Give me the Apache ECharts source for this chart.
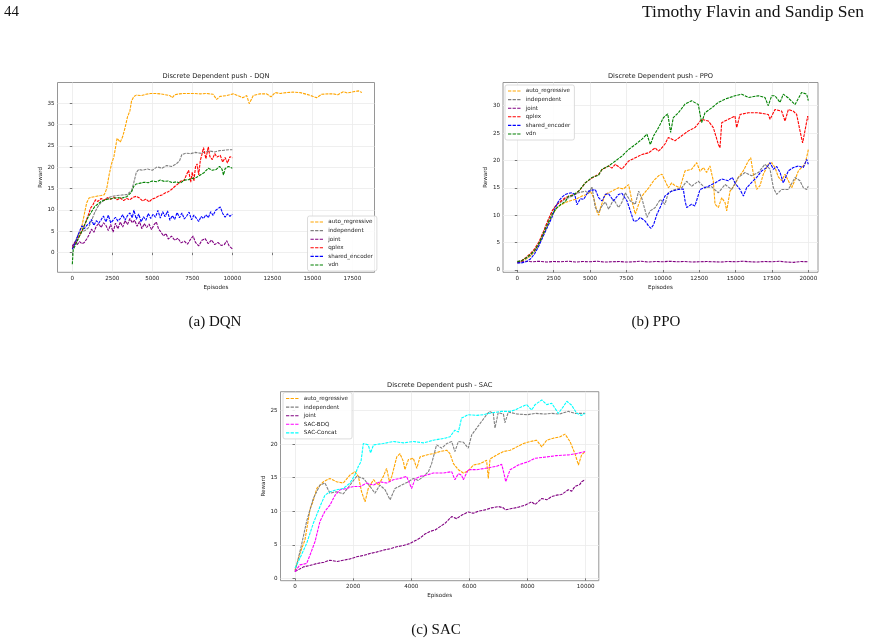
<!DOCTYPE html>
<html>
<head>
<meta charset="utf-8">
<script src="https://cdn.jsdelivr.net/npm/echarts@6/dist/echarts.min.js"></script>
<style>
  html, body { margin: 0; padding: 0; background: #fff; }
  #chart { width: 869px; height: 644px; }
</style>
</head>
<body>
<div id="chart"></div>
<script>
// ---------- DQN ----------
const dqnTicksX = [0, 2500, 5000, 7500, 10000, 12500, 15000, 17500];
const dqnTicksY = [0, 5, 10, 15, 20, 25, 30, 35];
const dqnAutoRegressive = [[0,1.0],[150,2.2],[300,3.4],[450,4.6],[600,6.2],[750,9.0],[900,11.7],[1050,12.8],[1200,13.0],[1400,13.1],[1600,13.3],[1800,13.4],[2000,13.6],[2150,15.0],[2300,18.2],[2450,20.8],[2600,22.5],[2700,24.6],[2800,26.8],[2900,26.4],[3000,25.9],[3150,27.2],[3300,29.3],[3450,31.8],[3600,33.2],[3700,35.5],[3850,36.6],[4000,36.9],[4300,36.8],[4600,37.1],[4900,37.3],[5200,37.3],[5500,37.2],[5800,37.0],[6100,36.8],[6250,36.3],[6400,37.0],[6700,37.2],[7000,37.3],[7500,37.3],[8000,37.2],[8400,37.3],[8800,37.1],[9020,35.9],[9230,36.6],[9650,36.8],[10060,37.2],[10480,36.6],[10650,36.3],[10900,36.8],[11060,34.9],[11310,36.8],[11730,37.2],[12150,37.2],[12420,36.5],[12670,37.5],[13000,37.3],[13400,37.5],[13800,37.6],[14230,37.5],[14650,37.1],[15060,36.6],[15270,36.3],[15590,37.1],[16000,37.2],[16310,37.2],[16600,37.0],[16940,37.7],[17200,37.4],[17560,37.7],[17880,37.9],[18100,37.5]];
const dqnIndependent = [[0,1.4],[200,2.8],[400,4.6],[600,4.9],[800,5.2],[1000,5.8],[1200,7.5],[1400,9.4],[1600,10.8],[1800,11.8],[2000,12.3],[2200,12.8],[2500,13.2],[2800,13.4],[3100,13.5],[3400,13.6],[3700,14.5],[3850,16.5],[4000,18.8],[4150,19.5],[4400,19.3],[4700,19.6],[5000,19.3],[5300,20.1],[5600,19.8],[5900,20.4],[6200,20.2],[6500,20.8],[6700,21.5],[6850,23.0],[7100,23.3],[7400,23.2],[7700,23.5],[8000,23.3],[8300,23.6],[8600,23.8],[8900,23.6],[9200,23.9],[9500,24.0],[9800,24.1],[10000,24.1]];
const dqnJoint = [[0,1.5],[150,2.5],[300,1.9],[450,2.6],[600,2.1],[750,2.4],[900,3.2],[1050,4.2],[1200,5.5],[1350,4.8],[1500,6.2],[1650,6.8],[1800,5.9],[1950,7.0],[2100,6.4],[2250,5.2],[2400,6.6],[2550,4.8],[2700,6.9],[2850,5.6],[3000,7.2],[3150,6.0],[3300,7.5],[3450,6.6],[3600,8.0],[3750,7.0],[3900,7.6],[4050,6.2],[4200,7.3],[4350,5.6],[4500,6.8],[4650,5.9],[4800,6.7],[4950,5.4],[5100,6.5],[5250,7.2],[5400,5.5],[5550,4.8],[5700,3.9],[5850,4.5],[6000,3.2],[6200,3.9],[6400,2.9],[6600,3.4],[6800,2.3],[7000,2.7],[7200,2.0],[7400,3.2],[7550,3.9],[7700,2.4],[7900,1.6],[8100,2.9],[8300,3.3],[8500,2.1],[8700,3.0],[8900,1.9],[9100,2.4],[9300,1.7],[9500,1.9],[9650,2.8],[9800,1.6],[10000,0.9]];
const dqnQplex = [[0,1.0],[200,2.2],[400,3.6],[600,5.0],[800,6.8],[1000,8.8],[1150,10.5],[1300,11.3],[1450,12.4],[1600,12.0],[1800,12.7],[2000,12.3],[2200,12.9],[2400,12.5],[2600,13.0],[2800,12.4],[3000,12.8],[3200,12.2],[3400,12.7],[3600,12.4],[3800,13.0],[4000,13.2],[4200,12.8],[4400,12.1],[4600,12.6],[4800,11.9],[5000,12.6],[5200,12.8],[5400,13.3],[5600,13.5],[5800,14.0],[6000,14.3],[6200,14.8],[6400,15.5],[6600,16.1],[6800,16.8],[7000,17.0],[7150,18.4],[7270,19.3],[7400,16.5],[7500,18.9],[7600,16.8],[7700,20.1],[7800,20.8],[7900,18.2],[8000,21.6],[8100,23.0],[8200,24.6],[8350,22.0],[8500,24.8],[8600,22.5],[8750,21.8],[8900,23.2],[9050,22.4],[9250,22.8],[9400,21.2],[9550,22.3],[9700,21.0],[9850,22.5],[10000,22.2]];
const dqnSharedEncoder = [[0,0.8],[150,2.0],[300,3.5],[450,5.0],[600,6.3],[750,5.6],[900,6.4],[1050,6.8],[1200,7.8],[1350,6.4],[1500,7.5],[1650,6.9],[1800,7.7],[1950,8.6],[2100,7.2],[2250,8.8],[2400,7.0],[2550,7.6],[2700,8.3],[2850,7.4],[3000,8.0],[3150,8.9],[3300,7.6],[3450,8.7],[3600,9.3],[3750,8.2],[3850,10.0],[4000,7.8],[4150,9.1],[4300,7.2],[4450,8.4],[4600,7.6],[4750,9.2],[4900,8.0],[5050,9.0],[5200,8.3],[5350,9.9],[5500,8.1],[5650,9.6],[5800,8.4],[5950,9.8],[6100,7.6],[6250,8.7],[6400,7.8],[6550,9.4],[6700,8.2],[6850,9.3],[7000,7.9],[7150,8.6],[7300,9.5],[7450,7.7],[7600,8.8],[7750,8.1],[7900,7.3],[8050,8.5],[8200,8.0],[8350,8.9],[8500,8.2],[8650,9.6],[8800,8.7],[8950,9.9],[9100,10.3],[9250,10.7],[9400,9.2],[9550,8.3],[9700,9.1],[9850,8.5],[10000,9.0]];
const dqnVdn = [[0,-2.7],[60,0.8],[200,1.8],[400,3.5],[600,5.0],[800,6.8],[1000,8.4],[1200,9.6],[1400,10.8],[1600,11.4],[1800,12.0],[2000,12.3],[2200,12.5],[2500,12.7],[2800,12.9],[3100,12.8],[3400,13.1],[3700,14.2],[3850,15.6],[4000,16.1],[4250,16.3],[4500,16.5],[4750,16.4],[5000,16.8],[5250,16.6],[5500,17.0],[5750,16.7],[6000,16.8],[6250,16.4],[6500,16.6],[6750,16.3],[7000,17.0],[7250,17.1],[7500,17.4],[7750,17.6],[8000,18.2],[8250,18.8],[8500,19.8],[8750,19.3],[9000,19.5],[9200,20.2],[9350,19.6],[9450,18.2],[9550,19.7],[9750,20.2],[10000,19.8]];

// ---------- PPO ----------
const ppoTicksX = [0, 2500, 5000, 7500, 10000, 12500, 15000, 17500, 20000];
const ppoTicksY = [0, 5, 10, 15, 20, 25, 30];
const ppoAutoRegressive = [[0,1.5],[300,1.6],[600,2.0],[900,2.5],[1200,3.4],[1500,4.7],[1800,6.4],[2100,8.2],[2400,10.0],[2700,11.3],[3000,11.9],[3300,12.3],[3600,12.6],[4000,12.9],[4450,13.5],[4800,13.8],[5020,14.4],[5250,13.2],[5480,10.6],[5600,10.0],[5720,11.4],[6050,13.8],[6500,14.4],[6960,15.0],[7300,14.8],[7650,15.6],[7880,12.6],[8110,10.2],[8340,12.0],[8570,13.5],[9030,15.0],[9370,16.3],[9710,17.2],[9940,17.5],[10100,16.6],[10380,15.0],[10610,15.9],[10840,15.4],[11180,15.0],[11530,18.1],[11980,18.4],[12330,19.6],[12560,18.0],[12790,18.7],[13010,17.8],[13240,19.0],[13470,16.3],[13590,12.0],[13820,11.4],[14050,13.2],[14280,12.3],[14390,10.8],[14620,14.4],[14960,15.6],[15190,16.9],[15530,18.1],[15880,19.9],[16040,20.5],[16220,17.6],[16450,14.7],[16680,15.4],[16910,17.5],[17250,19.3],[17480,19.6],[17710,18.7],[17940,17.0],[18170,16.3],[18400,17.5],[18630,16.3],[18860,15.0],[19090,16.5],[19320,18.1],[19540,18.7],[19770,19.3],[19960,21.4],[20000,22.0]];
const ppoIndependent = [[0,1.6],[300,1.7],[600,2.1],[900,2.7],[1200,3.6],[1500,5.0],[1800,7.0],[2100,9.0],[2400,10.8],[2700,12.0],[3000,12.4],[3300,13.0],[3530,13.2],[3800,13.5],[4200,14.1],[4670,14.4],[4900,14.0],[5130,15.2],[5360,11.4],[5590,10.5],[5820,11.7],[6050,12.4],[6280,11.1],[6620,12.9],[6960,11.4],[7200,12.4],[7420,14.1],[7770,12.6],[8110,12.0],[8340,14.4],[8570,13.0],[8910,9.6],[9140,10.8],[9480,11.4],[9830,12.9],[10150,12.0],[10380,14.1],[10840,14.7],[11300,15.0],[11640,16.2],[11980,15.3],[12440,16.2],[12900,15.0],[13360,15.2],[13820,14.1],[14280,15.6],[14730,14.7],[15190,16.9],[15650,17.8],[16110,17.2],[16570,17.8],[17020,19.3],[17370,18.4],[17600,15.0],[17830,13.8],[18170,14.7],[18630,14.7],[19090,16.9],[19430,16.3],[19660,15.0],[19890,14.7],[20000,15.3]];
const ppoJoint = [[0,1.3],[500,1.6],[1000,1.5],[1500,1.6],[2000,1.45],[2500,1.55],[3000,1.5],[3500,1.6],[4000,1.45],[4500,1.55],[5000,1.5],[5500,1.6],[6000,1.45],[6500,1.5],[7000,1.55],[7500,1.45],[8000,1.5],[8500,1.6],[9000,1.45],[9500,1.55],[10000,1.5],[10500,1.6],[11000,1.5],[11500,1.55],[12000,1.45],[12500,1.5],[13000,1.55],[13500,1.5],[14000,1.45],[14500,1.55],[15000,1.5],[15500,1.6],[16000,1.5],[16500,1.45],[17000,1.55],[17500,1.5],[18000,1.6],[18500,1.45],[19000,1.4],[19500,1.55],[20000,1.5]];
const ppoQplex = [[0,1.4],[300,1.7],[600,2.3],[900,3.0],[1200,3.9],[1500,5.2],[1800,7.0],[2100,9.0],[2400,10.8],[2700,11.9],[3000,12.6],[3300,13.2],[3600,13.5],[4000,13.9],[4300,14.6],[4670,15.9],[5130,16.8],[5590,17.5],[5820,18.3],[6280,19.0],[6500,18.6],[6740,19.3],[7190,18.4],[7650,19.9],[8110,20.5],[8570,21.1],[9030,21.4],[9480,22.3],[9690,21.7],[9830,22.0],[10150,23.0],[10380,24.2],[10840,23.6],[11300,24.5],[11760,25.4],[12210,26.0],[12670,27.5],[13130,27.2],[13470,26.0],[13700,24.0],[13820,22.9],[13930,22.3],[14050,26.9],[14500,27.5],[14960,28.1],[15080,26.0],[15310,28.4],[15880,28.7],[16570,28.7],[17250,28.4],[17370,27.5],[17710,29.3],[18170,29.0],[18400,27.2],[18630,29.3],[18970,29.0],[19200,28.4],[19430,25.4],[19610,23.2],[19770,25.4],[19960,28.1],[20000,27.5]];
const ppoSharedEncoder = [[0,1.3],[300,1.3],[600,1.5],[900,2.0],[1200,3.0],[1500,4.5],[1800,6.3],[2100,8.0],[2380,9.6],[2600,11.3],[2840,12.6],[3070,13.3],[3300,13.8],[3530,14.0],[3760,14.1],[3950,13.8],[4100,11.9],[4330,13.0],[4560,12.9],[4900,14.4],[5360,14.7],[5590,13.2],[5820,12.6],[6050,13.8],[6280,13.9],[6620,12.6],[6960,13.8],[7190,14.0],[7540,12.6],[7770,10.8],[8000,8.9],[8220,9.0],[8450,9.6],[8800,8.9],[9030,8.0],[9190,7.6],[9370,8.3],[9600,10.2],[9830,11.5],[10150,13.5],[10610,14.4],[11070,14.7],[11410,14.8],[11530,12.6],[11640,11.4],[11980,12.0],[12210,11.7],[12560,14.7],[13130,15.3],[13590,15.9],[14050,16.6],[14500,16.3],[14780,16.9],[14960,15.9],[15310,14.7],[15540,13.5],[15760,15.0],[16110,16.0],[16450,16.9],[16800,18.1],[17140,18.7],[17370,19.6],[17600,18.4],[17830,18.9],[18060,17.8],[18280,15.9],[18630,18.1],[18970,18.7],[19320,19.0],[19660,18.7],[19890,20.2],[20000,19.3]];
const ppoVdn = [[0,1.5],[300,1.7],[600,2.2],[900,2.8],[1200,3.6],[1500,4.9],[1800,6.7],[2100,8.5],[2400,10.2],[2700,11.3],[3000,12.0],[3300,12.5],[3530,13.5],[3800,13.6],[4220,14.4],[4670,15.9],[5130,16.9],[5590,17.3],[5820,18.4],[6280,19.0],[6740,19.9],[7190,20.8],[7650,22.0],[8110,22.9],[8570,23.9],[8910,24.8],[9140,22.9],[9370,24.5],[9710,26.0],[10040,27.8],[10340,28.5],[10540,25.1],[10720,27.8],[11070,28.7],[11530,30.3],[11980,30.9],[12440,30.2],[12670,26.9],[12900,28.7],[13360,29.6],[13820,30.6],[14280,31.2],[14960,31.8],[15420,32.1],[15880,31.5],[16570,31.8],[17020,31.5],[17250,30.0],[17480,31.8],[17710,31.8],[18060,30.6],[18280,32.1],[18630,31.4],[19090,30.2],[19540,32.4],[19890,32.1],[20000,30.9]];

// ---------- SAC ----------
const sacTicksX = [0, 2000, 4000, 6000, 8000, 10000];
const sacTicksY = [0, 5, 10, 15, 20, 25];
const sacAutoRegressive = [[0,1.2],[170,3.7],[340,5.7],[400,7.2],[520,10.4],[600,11.2],[750,13.4],[980,14.4],[1200,14.9],[1430,14.4],[1660,14.2],[1890,15.4],[2060,15.9],[2180,15.2],[2290,12.9],[2410,11.4],[2520,13.4],[2700,14.7],[2870,13.9],[3040,15.2],[3150,16.4],[3250,14.4],[3330,15.2],[3500,18.1],[3610,18.6],[3730,17.4],[3780,16.2],[3900,17.7],[4070,17.9],[4190,16.4],[4300,18.1],[4530,18.4],[4760,18.6],[4990,18.9],[5220,19.1],[5330,18.6],[5450,17.1],[5620,16.2],[5790,15.7],[5960,16.0],[6140,16.9],[6370,17.1],[6590,17.6],[6650,14.9],[6710,17.8],[6940,18.4],[7170,18.9],[7400,19.1],[7630,19.6],[7860,20.1],[8090,20.4],[8310,20.6],[8490,19.6],[8660,20.6],[8890,20.9],[9120,21.1],[9290,21.5],[9460,20.4],[9630,18.6],[9750,16.9],[9860,18.4],[9980,18.9]];
const sacIndependent = [[0,1.0],[200,4.5],[400,8.5],[630,11.9],[860,13.9],[1030,14.2],[1200,12.7],[1430,12.9],[1660,12.6],[1890,13.9],[2120,15.2],[2350,14.9],[2580,13.7],[2750,12.7],[2920,13.9],[3100,13.2],[3270,11.7],[3440,13.4],[3670,13.9],[3900,14.4],[4070,14.9],[4240,14.6],[4420,15.2],[4590,15.9],[4700,17.1],[4870,19.9],[5050,19.4],[5220,20.1],[5390,20.4],[5500,18.9],[5620,20.4],[5790,20.3],[5960,19.4],[6080,21.4],[6250,22.4],[6420,23.4],[6590,24.4],[6690,24.9],[6820,24.6],[6880,22.4],[6990,24.7],[7170,24.5],[7220,23.2],[7340,24.8],[7630,24.5],[8000,24.4],[8260,24.6],[8600,24.5],[8830,24.6],[9100,24.5],[9400,24.9],[9630,24.6],[9980,24.6]];
const sacJoint = [[0,1.0],[290,1.7],[500,1.9],[750,2.2],[1000,2.4],[1200,2.7],[1450,2.5],[1660,2.7],[1900,2.9],[2120,3.2],[2350,3.4],[2580,3.7],[2800,3.9],[3040,4.2],[3270,4.4],[3500,4.7],[3730,4.9],[3960,5.2],[4130,5.6],[4300,6.0],[4470,6.6],[4650,7.0],[4820,7.2],[4990,7.7],[5160,8.2],[5390,9.2],[5560,8.9],[5730,9.4],[5960,9.9],[6130,9.7],[6310,10.0],[6540,10.2],[6760,10.5],[7000,10.7],[7170,10.5],[7230,10.2],[7450,10.4],[7680,10.6],[7910,10.9],[8140,11.4],[8260,11.0],[8490,11.9],[8660,11.7],[8830,12.2],[9000,12.4],[9170,12.5],[9400,13.2],[9520,13.0],[9630,13.7],[9800,14.0],[9860,14.4],[9980,14.7]];
const sacBdq = [[0,1.0],[170,2.0],[400,2.2],[520,3.5],[690,5.5],[860,8.5],[1030,10.0],[1200,10.9],[1380,12.4],[1550,13.2],[1780,13.4],[2010,13.7],[2240,13.7],[2470,14.2],[2700,13.9],[2920,14.4],[3150,14.2],[3380,14.7],[3610,14.9],[3840,15.2],[4010,13.4],[4130,14.8],[4300,15.2],[4530,15.4],[4760,15.7],[5100,15.7],[5390,15.9],[5500,14.7],[5620,15.6],[5730,15.4],[5790,14.7],[5960,16.2],[6250,16.2],[6540,16.4],[6940,16.7],[7110,17.0],[7190,15.6],[7250,14.4],[7400,16.2],[7680,16.9],[8030,17.4],[8260,17.9],[8660,18.1],[9000,18.3],[9400,18.4],[9690,18.6],[9980,18.9]];
const sacConcat = [[0,1.5],[170,3.0],[400,5.2],[630,8.2],[860,10.7],[1030,12.4],[1200,12.9],[1430,13.2],[1660,13.4],[1890,14.2],[2060,15.4],[2180,16.7],[2270,17.4],[2350,20.1],[2520,19.9],[2600,18.7],[2700,19.9],[3040,20.1],[3380,20.4],[3730,20.2],[4070,20.4],[4420,20.2],[4760,20.6],[5160,20.9],[5330,21.1],[5500,22.1],[5620,21.8],[5730,23.9],[5960,24.4],[6250,24.3],[6480,24.4],[6650,24.6],[7110,24.9],[7400,24.9],[7570,25.1],[7800,25.6],[7970,25.9],[8140,25.1],[8260,25.9],[8490,26.6],[8660,25.9],[8830,26.1],[9060,24.6],[9230,25.6],[9350,26.4],[9520,25.8],[9690,24.6],[9860,24.3],[9980,24.6]];

const COLORS = {
  auto_regressive: '#FFA500',
  independent: '#808080',
  joint: '#800080',
  qplex: '#FF0000',
  shared_encoder: '#0000FF',
  vdn: '#008000',
  'SAC-BDQ': '#FF00FF',
  'SAC-Concat': '#00FFFF'
};

const FONT = 'DejaVu Sans';
const TXT = '#222';
// dashed legend key, like matplotlib's "--" handle
const DASH_ICON = 'path://M0,0h3.3v1.1h-3.3z M4.6,0h3.3v1.1h-3.3z M9.2,0h3.3v1.1h-3.3z';

// box = [left, top, right, bottom] of each axes frame in px
const panels = [
  {
    title: 'Discrete Dependent push - DQN', caption: '(a) DQN', captionPos: [215, 322],
    box: [57.5, 82.5, 374.5, 272.3], xRange: [-925, 18887], yRange: [-4.59, 39.86],
    xTicks: dqnTicksX, yTicks: dqnTicksY,
    lines: [['auto_regressive', dqnAutoRegressive], ['independent', dqnIndependent], ['joint', dqnJoint],
            ['qplex', dqnQplex], ['shared_encoder', dqnSharedEncoder], ['vdn', dqnVdn]],
    legendPos: { left: 307.5, top: 216 }
  },
  {
    title: 'Discrete Dependent push - PPO', caption: '(b) PPO', captionPos: [656, 322],
    box: [503, 82.5, 818, 272.3], xRange: [-983, 20667], yRange: [-0.42, 34.23],
    xTicks: ppoTicksX, yTicks: ppoTicksY,
    lines: [['auto_regressive', ppoAutoRegressive], ['independent', ppoIndependent], ['joint', ppoJoint],
            ['qplex', ppoQplex], ['shared_encoder', ppoSharedEncoder], ['vdn', ppoVdn]],
    legendPos: { left: 505, top: 85 }
  },
  {
    title: 'Discrete Dependent push - SAC', caption: '(c) SAC', captionPos: [436, 630],
    box: [280.5, 391.7, 598.8, 580.7], xRange: [-499, 10451], yRange: [-0.36, 27.83],
    xTicks: sacTicksX, yTicks: sacTicksY,
    lines: [['auto_regressive', sacAutoRegressive], ['independent', sacIndependent], ['joint', sacJoint],
            ['SAC-BDQ', sacBdq], ['SAC-Concat', sacConcat]],
    legendPos: { left: 283, top: 392.5 }
  }
];

const grid = [], xAxis = [], yAxis = [], series = [], legend = [], graphic = [];

panels.forEach(function (p, i) {
  const [l, t, r, b] = p.box;
  grid.push({
    left: l, top: t, width: r - l, height: b - t,
    show: true, borderColor: '#8a8a8a', borderWidth: 0.9, backgroundColor: '#fff'
  });
  const tickCommon = { show: true, inside: false, length: 2.5, lineStyle: { color: '#444', width: 0.7 } };
  xAxis.push({
    type: 'value', gridIndex: i, min: p.xRange[0], max: p.xRange[1],
    name: 'Episodes', nameLocation: 'middle', nameGap: 12,
    nameTextStyle: { fontFamily: FONT, fontSize: 5.6, color: TXT },
    axisLine: { show: false },
    axisTick: Object.assign({ customValues: p.xTicks }, tickCommon),
    axisLabel: { customValues: p.xTicks, fontFamily: FONT, fontSize: 5.6, color: TXT, margin: 3,
                 formatter: function (v) { return String(v); } },
    splitLine: { show: true, lineStyle: { color: '#ebebeb', width: 0.8 } }
  });
  yAxis.push({
    type: 'value', gridIndex: i, min: p.yRange[0], max: p.yRange[1],
    name: 'Reward', nameLocation: 'middle', nameGap: 11, nameRotate: 90,
    nameTextStyle: { fontFamily: FONT, fontSize: 5.6, color: TXT },
    axisLine: { show: false },
    axisTick: Object.assign({ customValues: p.yTicks }, tickCommon),
    axisLabel: { customValues: p.yTicks, fontFamily: FONT, fontSize: 5.6, color: TXT, margin: 3,
                 formatter: function (v) { return String(v); } },
    splitLine: { show: true, lineStyle: { color: '#ebebeb', width: 0.8 } }
  });
  p.lines.forEach(function (ln) {
    series.push({
      type: 'line', name: ln[0], xAxisIndex: i, yAxisIndex: i,
      data: ln[1], symbol: 'none', smooth: false, animation: false,
      lineStyle: { color: COLORS[ln[0]], width: 1.1, type: [3, 1] },
      itemStyle: { color: COLORS[ln[0]] },
      z: 3
    });
  });
  legend.push({
    orient: 'vertical', left: p.legendPos.left, top: p.legendPos.top,
    data: p.lines.map(function (ln) { return { name: ln[0], icon: DASH_ICON }; }),
    itemWidth: 13, itemHeight: 1.1, itemGap: 0.6,
    padding: [2, 4, 2, 3],
    backgroundColor: 'rgba(255,255,255,0.85)', borderColor: '#d3d3d3', borderWidth: 0.8, borderRadius: 2,
    textStyle: { fontFamily: FONT, fontSize: 5.6, color: TXT, lineHeight: 8 },
    selectedMode: false
  });
  graphic.push({
    type: 'text', x: (l + r) / 2, y: t - 6,
    style: { text: p.title, font: '6.7px "DejaVu Sans"', fill: TXT, align: 'center', verticalAlign: 'middle' }
  });
  graphic.push({
    type: 'text', x: p.captionPos[0], y: p.captionPos[1],
    style: { text: p.caption, font: '15px "Liberation Serif"', fill: '#111', align: 'center', verticalAlign: 'middle' }
  });
});

// running page header
graphic.push({
  type: 'text', x: 4, y: 12,
  style: { text: '44', font: '15px "Liberation Serif"', fill: '#111', align: 'left', verticalAlign: 'middle' }
});
graphic.push({
  type: 'text', x: 864, y: 12,
  style: { text: 'Timothy Flavin and Sandip Sen', font: '17.5px "Liberation Serif"', fill: '#111', align: 'right', verticalAlign: 'middle' }
});

const chart = echarts.init(document.getElementById('chart'));
chart.setOption({
  animation: false,
  backgroundColor: '#fff',
  grid: grid,
  xAxis: xAxis,
  yAxis: yAxis,
  legend: legend,
  series: series,
  graphic: graphic
});
</script>
</body>
</html>
